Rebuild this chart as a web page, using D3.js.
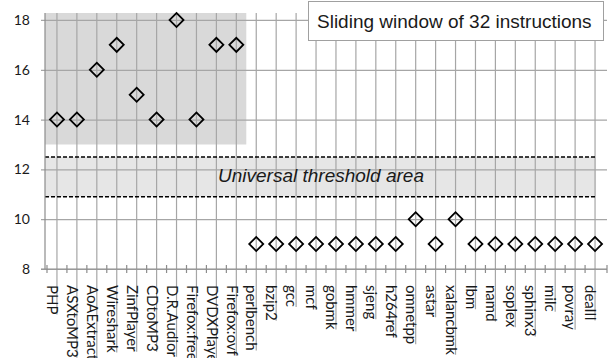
<!DOCTYPE html>
<html lang="en">
<head>
<meta charset="UTF-8"/>
<title>Sliding window of 32 instructions</title>
<script src="https://d3js.org/d3.v7.min.js"></script>
<style>
	body { margin: 0; background: #fff; }
	svg text { fill: #1a1a1a; }
</style>
</head>
<body>
<script>

	var w = 613;
	var h = 358;

	// data
	var programs = ["PHP", "ASXtoMP3", "AoAExtract", "Wireshark", "ZinfPlayer", "CDtoMP3",
		"D.R.Audior", "Firefox:free", "DVDXPlayer", "Firefox:ovf", "perlbench", "bzip2", "gcc",
		"mcf", "gobmk", "hmmer", "sjeng", "h264ref", "omnetpp", "astar", "xalancbmk", "lbm",
		"namd", "soplex", "sphinx3", "milc", "povray", "dealII"];
	var thresholds = [14, 14, 16, 17, 15, 14, 18, 14, 17, 17, 9, 9, 9,
		9, 9, 9, 9, 9, 10, 9, 10, 9,
		9, 9, 9, 9, 9, 9];
	var yTicks = [8, 10, 12, 14, 16, 18];
	var universalArea = [10.9, 12.5];
	var appBoxFloor = 13;
	var lastApp = "Firefox:ovf";
	var legendText = "Sliding window of 32 instructions";
	var areaText = "Universal threshold area";

	// plot area ("top" is taken by window.top, so use other names)
	var pLeft = 45, pRight = 607, pTop = 13, pBottom = 269;
	var labelTop = 285;

	var xScale = d3.scalePoint()
		.domain(programs)
		.range([pLeft, pRight])
		.padding(0.6);
	var step = xScale.step();

	var yScale = d3.scaleLinear()
		.domain([8, 18.28])
		.range([pBottom, pTop]);

	var svg = d3.select("body")
		.append("svg")
		.attr("width", w)
		.attr("height", h);

	// shaded box behind the applications
	svg.append("rect")
		.attr("x", pLeft)
		.attr("y", pTop)
		.attr("width", xScale(lastApp) + step / 2 - pLeft)
		.attr("height", yScale(appBoxFloor) - pTop)
		.attr("fill", "#d9d9d9");

	// universal threshold band
	var bandRight = xScale(programs[programs.length - 1]) + 1;
	svg.append("rect")
		.attr("x", pLeft)
		.attr("y", yScale(universalArea[1]))
		.attr("width", bandRight - pLeft)
		.attr("height", yScale(universalArea[0]) - yScale(universalArea[1]))
		.attr("fill", "#e6e6e6");

	// y axis with gridlines
	var yAxis = d3.axisLeft(yScale)
		.tickValues(yTicks)
		.tickSize(pRight - pLeft + 4)
		.tickPadding(11)
		.tickFormat(d3.format("d"));

	var gy = svg.append("g")
		.attr("transform", "translate(" + pRight + ",0)")
		.call(yAxis);
	gy.select(".domain").remove();
	gy.selectAll("line").attr("stroke", "#a6a6a6").attr("stroke-width", 1.2);
	gy.selectAll("text")
		.style("font-family", "Lato, 'Noto Sans', sans-serif")
		.style("font-size", "14px")
		.attr("fill", "#1a1a1a");

	// x labels (rotated) and the long category lines
	var labels = svg.selectAll(".xlabel")
		.data(programs)
		.enter()
		.append("text")
		.attr("class", "xlabel")
		.attr("transform", function(d) {
			return "translate(" + (xScale(d) + 1) + "," + labelTop + ") rotate(90)";
		})
		.attr("dy", "0.72em")
		.style("font-family", "Lato, 'Noto Sans', sans-serif")
		.style("font-size", "15px")
		.text(function(d) { return d; });

	var lens = {};
	labels.each(function(d) { lens[d] = this.getComputedTextLength(); });

	svg.insert("g", ".xlabel")
		.selectAll("line")
		.data(programs)
		.enter()
		.append("line")
		.attr("x1", function(d) { return xScale(d); })
		.attr("x2", function(d) { return xScale(d); })
		.attr("y1", pTop)
		.attr("y2", function(d) { return labelTop + lens[d]; })
		.attr("stroke", "#a6a6a6")
		.attr("stroke-width", 1.2);

	// dashed borders of the band
	svg.selectAll(".dash")
		.data(universalArea)
		.enter()
		.append("line")
		.attr("x1", pLeft)
		.attr("x2", bandRight)
		.attr("y1", function(d) { return yScale(d); })
		.attr("y2", function(d) { return yScale(d); })
		.attr("stroke", "#000")
		.attr("stroke-width", 1.4)
		.attr("stroke-dasharray", "4,2");

	svg.append("text")
		.attr("x", 321)
		.attr("y", 182)
		.attr("text-anchor", "middle")
		.style("font-family", "'Liberation Sans', Arial, sans-serif")
		.style("font-style", "italic")
		.style("font-size", "19px")
		.text(areaText);

	// axis lines
	svg.append("line")
		.attr("x1", pLeft).attr("x2", pLeft)
		.attr("y1", pTop).attr("y2", pBottom)
		.attr("stroke", "#8c8c8c").attr("stroke-width", 1.2);
	svg.append("line")
		.attr("x1", pLeft - 4).attr("x2", pRight)
		.attr("y1", pBottom).attr("y2", pBottom)
		.attr("stroke", "#8c8c8c").attr("stroke-width", 1.2);

	// small cross ticks between categories
	var tickXs = programs.map(function(d) { return xScale(d) - step / 2; });
	tickXs.push(pRight);
	svg.selectAll(".xtick")
		.data(tickXs)
		.enter()
		.append("line")
		.attr("x1", function(d) { return d; })
		.attr("x2", function(d) { return d; })
		.attr("y1", pBottom - 4)
		.attr("y2", pBottom + 4)
		.attr("stroke", "#8c8c8c")
		.attr("stroke-width", 1.2);

	// diamonds
	svg.selectAll(".pt")
		.data(programs)
		.enter()
		.append("path")
		.attr("d", d3.symbol(d3.symbolSquare, 98))
		.attr("transform", function(d, i) {
			return "translate(" + xScale(d) + "," + yScale(thresholds[i]) + ") rotate(45)";
		})
		.attr("fill", "none")
		.attr("stroke", "#000")
		.attr("stroke-width", 1.8);

	// legend box
	svg.append("rect")
		.attr("x", 308.5)
		.attr("y", 1.5)
		.attr("width", 295)
		.attr("height", 39)
		.attr("fill", "#fff")
		.attr("stroke", "#a0a0a0");
	svg.append("text")
		.attr("x", 317)
		.attr("y", 28)
		.style("font-family", "'Liberation Sans', Arial, sans-serif")
		.style("font-size", "19px")
		.text(legendText);

</script>
</body>
</html>
